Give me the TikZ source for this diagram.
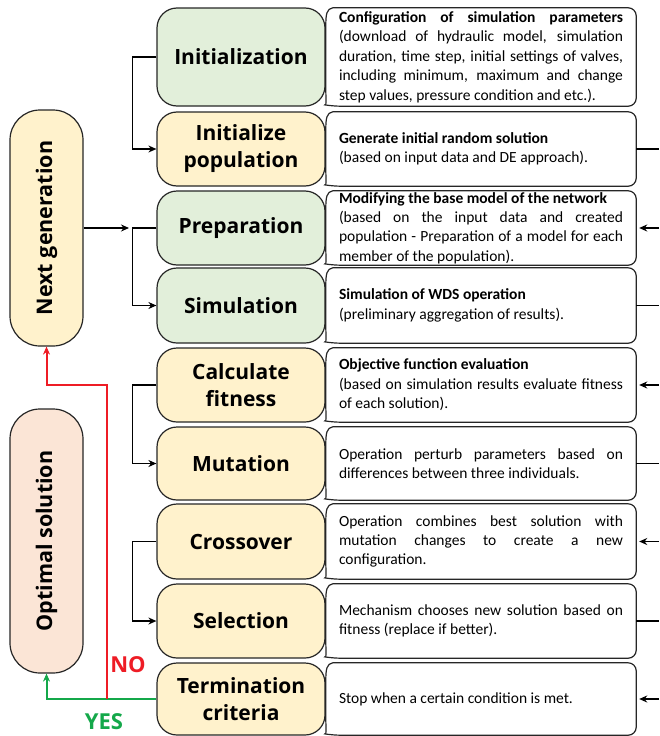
\documentclass[tikz,border=0pt]{standalone}
\usepackage{fontspec}
\usepackage{graphicx}
\setmainfont{Carlito}
\newfontfamily\headfont{Open Sans}
\usetikzlibrary{arrows.meta}
\definecolor{stepgreen}{HTML}{E2EFDA}
\definecolor{stepyellow}{HTML}{FFF2CC}
\definecolor{steppink}{HTML}{FBE5D6}
\definecolor{nored}{HTML}{EE1C25}
\definecolor{yesgreen}{HTML}{14A84A}
\definecolor{frameline}{HTML}{262626}
\tikzset{
  stepbox/.style={draw=frameline, line width=1.2pt, rounded corners=20pt, minimum width=168pt,
                  inner sep=0pt, align=center, font=\headfont\bfseries\fontsize{21}{27}\selectfont},
  greenstep/.style={stepbox, fill=stepgreen},
  yellowstep/.style={stepbox, fill=stepyellow},
  sidebox/.style={stepbox, rounded corners=30pt, minimum width=73pt,
                  font=\headfont\bfseries\fontsize{21.5}{27}\selectfont},
  descbox/.style={text width=284pt, inner xsep=13pt, inner ysep=0pt, align=justify,
                  font=\fontsize{15.5}{19.4}\selectfont},
  descframe/.style={draw=frameline, line width=1.2pt},
  link/.style={line width=1.6pt},
  flow/.style={link, -{Stealth[length=8pt,width=7pt]}},
  noline/.style={line width=2pt, nored, -{Stealth[length=8pt,width=7pt]}},
  yesline/.style={line width=2pt, yesgreen, -{Stealth[length=8pt,width=7pt]}},
  answer/.style={font=\headfont\bfseries\fontsize{22}{24}\selectfont, inner sep=0pt},
}
\newcommand{\descoutline}[1]{%
  \draw[descframe] ([yshift=-18pt]#1.north west) .. controls ([yshift=-6pt]#1.north west) and ([xshift=1pt,yshift=-1pt]#1.north west) .. ([xshift=7pt]#1.north west)
    [rounded corners=8pt] -- (#1.north east) -- (#1.south east) -- ([xshift=7pt]#1.south west)
    [sharp corners] .. controls ([xshift=1pt,yshift=1pt]#1.south west) and ([yshift=6pt]#1.south west) .. ([yshift=18pt]#1.south west) -- cycle;}

\begin{document}
\begin{tikzpicture}[x=1pt, y=-1pt]
  \useasboundingbox (0,0) rectangle (659,736);

  \node[greenstep, minimum height=98pt] (s1) at (241,57) {Initialization};
  \node[yellowstep, minimum height=74pt] (s2) at (241,149) {Initialize\\population};
  \node[greenstep, minimum height=74pt] (s3) at (241,228) {Preparation};
  \node[greenstep, minimum height=75pt] (s4) at (241,305.5) {Simulation};
  \node[yellowstep, minimum height=74pt] (s5) at (241,385) {Calculate\\fitness};
  \node[yellowstep, minimum height=73pt] (s6) at (241,463.5) {Mutation};
  \node[yellowstep, minimum height=75pt] (s7) at (241,541.5) {Crossover};
  \node[yellowstep, minimum height=74pt] (s8) at (241,621) {Selection};
  \node[yellowstep, minimum height=72pt] (s9) at (241,699) {Termination\\criteria};

  \node[descbox, minimum height=98pt] (d1) at (481,57) {\textbf{Configuration of simulation parameters}\linebreak (download of hydraulic model, simulation\linebreak duration, time step, initial settings of valves,\linebreak including minimum, maximum and change\linebreak step values, pressure condition and etc.).};
  \node[descbox, minimum height=74pt] (d2) at (481,149) {\textbf{Generate initial random solution}\\(based on input data and DE approach).};
  \node[descbox, minimum height=74pt] (d3) at (481,228) {\textbf{Modifying the base model of the network}\\(based on the input data and created\linebreak population - Preparation of a model for each\linebreak member of the population).};
  \node[descbox, minimum height=75pt] (d4) at (481,305.5) {\textbf{Simulation of WDS operation}\\(preliminary aggregation of results).};
  \node[descbox, minimum height=74pt] (d5) at (481,385) {\textbf{Objective function evaluation}\\(based on simulation results evaluate fitness\linebreak of each solution).};
  \node[descbox, minimum height=73pt] (d6) at (481,463.5) {Operation perturb parameters based on\linebreak differences between three individuals.};
  \node[descbox, minimum height=75pt] (d7) at (481,541.5) {Operation combines best solution with\linebreak mutation changes to create a new\linebreak configuration.};
  \node[descbox, minimum height=74pt] (d8) at (481,621) {Mechanism chooses new solution based on\linebreak fitness (replace if better).};
  \node[descbox, minimum height=72pt] (d9) at (481,699) {Stop when a certain condition is met.};
  \foreach \i in {1,...,9} {\descoutline{d\i}}

  \node[sidebox, fill=stepyellow, minimum height=236pt] (ng) at (46.5,228) {\rotatebox{90}{Next generation}};
  \node[sidebox, fill=steppink, minimum height=264pt] (os) at (46.5,541) {\rotatebox{90}{Optimal solution}};

  \draw[flow] (s1.west) -- ++(-24,0) |- (s2.west);
  \draw[flow] (s3.west) -- ++(-24,0) |- (s4.west);
  \draw[flow] (s5.west) -- ++(-24,0) |- (s6.west);
  \draw[flow] (s7.west) -- ++(-24,0) |- (s8.west);
  \coordinate (jn) at (129,228);
  \draw[flow] (ng.east) -- (jn);

  \coordinate (jr) at (107,699);
  \coordinate (rt) at (107,385);
  \draw[yesline] (s9.west) -| (os.south);
  \draw[noline] (jr) -- (rt) -| (ng.south);
  \node[answer, nored] (no) at (128,665) {NO};
  \node[answer, yesgreen] (yes) at (104,722) {YES};

  \coordinate (edge) at (659,0);
  \foreach \i in {2,4,6,8} \draw[link] (d\i.east) -- (d\i.east -| edge);
  \foreach \i in {3,5,7,9} \draw[flow, shorten >=3pt] (d\i.east -| edge) -- (d\i.east);
\end{tikzpicture}
\end{document}
